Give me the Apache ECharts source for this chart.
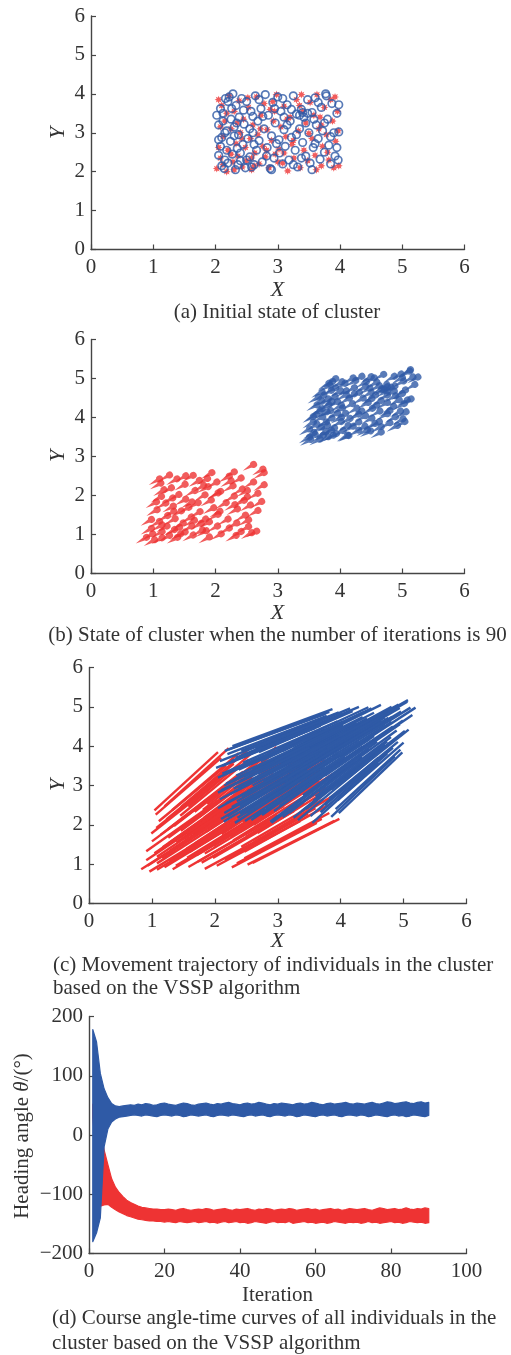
<!DOCTYPE html>
<html><head><meta charset="utf-8">
<script src="https://cdn.jsdelivr.net/npm/echarts@6/dist/echarts.min.js"></script>
<style>html,body{margin:0;padding:0;background:#fff}#c{width:511px;height:1355px}</style>
</head><body><div id="c"></div><script>
// Start positions of individuals (iteration 0) and their positions after 90 iterations
const blueStart = [[2.05,3.20],[2.08,2.65],[2.10,2.88],[2.12,3.50],[2.15,2.30],[2.18,3.05],[2.20,2.22],[2.22,3.92],[2.24,2.78],[2.25,3.35],
[2.27,2.45],[2.28,4.00],[2.30,3.15],[2.32,2.05],[2.33,3.70],[2.35,2.60],[2.37,2.95],[2.38,3.40],[2.40,2.28],[2.42,3.88],
[2.44,2.70],[2.46,3.22],[2.48,2.10],[2.50,3.80],[2.52,2.85],[2.55,2.38],[2.57,3.55],[2.60,3.00],[2.62,2.18],[2.64,3.95],
[2.66,2.55],[2.68,3.30],[2.70,2.80],[2.73,3.62],[2.75,2.25],[2.78,3.10],[2.80,3.98],[2.83,2.62],[2.85,3.45],[2.88,2.08],
[2.90,2.92],[2.92,3.78],[2.94,2.35],[2.96,3.25],[2.98,2.72],[3.00,3.92],[3.03,2.48],[3.05,3.55],[3.08,2.20],[3.10,3.08],
[3.12,2.65],[3.15,3.72],[3.18,2.30],[3.20,3.30],[3.22,2.88],[3.25,3.95],[3.28,2.55],[3.30,3.48],[3.32,2.12],[3.35,3.10],
[3.38,3.60],[3.40,2.75],[3.42,3.40],[3.45,2.40],[3.48,3.85],[3.50,3.00],[3.52,2.22],[3.55,3.52],[3.57,2.62],[3.60,3.90],
[3.62,3.20],[3.65,2.85],[3.68,2.32],[3.70,3.65],[3.72,3.05],[3.75,2.50],[3.77,4.00],[3.80,3.35],[3.82,2.68],[3.85,2.20],
[3.87,3.75],[3.90,3.00],[3.92,2.40],[3.95,3.50],[3.97,2.30],[3.98,3.72],[2.05,2.42],[2.14,2.08],[2.08,3.62],[2.20,3.80],
[3.45,3.25],[3.35,3.45],[3.58,3.35],[2.58,2.12],[2.36,2.18],[2.90,2.05],[3.25,2.18],[2.15,3.00],[2.60,3.42],[3.10,3.40],
[2.02,3.45],[2.10,2.15],[2.16,3.88],[2.18,2.55],[2.26,3.62],[2.30,2.92],[2.34,3.25],[2.40,2.48],[2.45,3.58],[2.50,2.30],
[2.55,3.10],[2.62,2.70],[2.70,3.85],[2.76,3.42],[2.82,2.40],[2.95,3.62],[3.02,2.82],[3.15,3.20],[3.22,3.60],[3.30,2.95],
[3.38,2.35],[3.48,3.50],[3.40,3.52],[3.60,2.72],[3.65,3.78],[3.75,3.25],[3.85,2.90],[3.95,2.62],[3.98,3.02],[3.78,3.95],
[2.05,2.82],[2.12,3.30],[3.08,3.88],[3.55,2.05]];
const blueEnd = [[3.57,4.27],[3.51,3.83],[3.56,4.02],[3.68,4.52],[3.52,3.56],[3.65,4.17],[3.54,3.51],[3.82,4.87],[3.66,3.96],[3.75,4.42],
[3.64,3.70],[3.87,4.94],[3.76,4.27],[3.62,3.39],[3.87,4.71],[3.72,3.83],[3.79,4.12],[3.86,4.48],[3.71,3.58],[3.97,4.86],
[3.81,3.93],[3.90,4.35],[3.75,3.45],[4.02,4.82],[3.90,4.06],[3.85,3.68],[4.04,4.63],[3.98,4.19],[3.88,3.53],[4.15,4.96],
[3.96,3.84],[4.09,4.44],[4.03,4.05],[4.17,4.71],[3.99,3.61],[4.14,4.30],[4.29,5.00],[4.10,3.92],[4.25,4.59],[4.06,3.49],
[4.21,4.18],[4.36,4.86],[4.15,3.72],[4.31,4.44],[4.24,4.03],[4.44,4.99],[4.24,3.83],[4.42,4.70],[4.24,3.62],[4.39,4.33],
[4.35,3.99],[4.53,4.85],[4.34,3.72],[4.51,4.52],[4.46,4.18],[4.64,5.05],[4.45,3.93],[4.61,4.68],[4.43,3.60],[4.60,4.38],
[4.69,4.79],[4.58,4.11],[4.70,4.63],[4.57,3.84],[4.81,5.00],[4.70,4.33],[4.60,3.71],[4.82,4.75],[4.70,4.04],[4.92,5.06],
[4.83,4.50],[4.80,4.23],[4.74,3.81],[4.96,4.88],[4.89,4.40],[4.83,3.96],[5.07,5.17],[4.99,4.65],[4.91,4.11],[4.86,3.74],
[5.11,4.98],[5.02,4.39],[4.95,3.91],[5.14,4.79],[4.98,3.84],[5.19,4.98],[3.45,3.65],[3.47,3.38],[3.65,4.61],[3.78,4.77],
[4.70,4.52],[4.65,4.66],[4.81,4.62],[3.83,3.49],[3.67,3.49],[4.08,3.48],[4.38,3.63],[3.62,4.12],[4.04,4.53],[4.44,4.59],
[3.59,4.46],[3.45,3.44],[3.76,4.82],[3.57,3.77],[3.80,4.64],[3.73,4.09],[3.81,4.35],[3.74,3.74],[3.95,4.63],[3.80,3.62],
[3.96,4.26],[3.96,3.95],[4.19,4.89],[4.17,4.55],[4.07,3.74],[4.35,4.74],[4.29,4.11],[4.45,4.43],[4.57,4.76],[4.53,4.26],
[4.50,3.79],[4.76,4.72],[4.70,4.73],[4.74,4.12],[4.94,4.97],[4.94,4.56],[4.97,4.30],[5.00,4.09],[5.08,4.42],[5.06,5.13],
[3.51,3.97],[3.65,4.36],[4.49,4.96],[4.60,3.57]];
const redStart = [[2.02,2.08],[2.05,3.85],[2.08,2.35],[2.10,3.70],[2.12,2.90],[2.15,3.30],[2.18,2.00],[2.20,2.55],[2.22,3.95],[2.25,3.10],
[2.28,2.25],[2.30,3.55],[2.33,2.72],[2.36,2.40],[2.38,3.82],[2.40,3.00],[2.43,2.12],[2.45,3.35],[2.48,2.62],[2.50,2.28],
[2.53,3.65],[2.56,2.85],[2.58,2.05],[2.60,3.20],[2.63,2.48],[2.66,3.92],[2.68,2.95],[2.70,2.20],[2.73,3.45],[2.76,2.65],
[2.78,3.75],[2.80,2.38],[2.83,3.08],[2.86,2.10],[2.88,3.60],[2.90,2.80],[2.93,3.30],[2.96,2.45],[2.98,3.98],[3.02,2.58],
[3.05,3.15],[3.08,2.22],[3.10,3.68],[3.13,2.90],[3.16,2.02],[3.20,3.40],[3.23,2.70],[3.26,2.35],[3.30,3.85],[3.33,3.05],
[3.36,2.10],[3.40,3.55],[3.42,2.55],[3.45,3.25],[3.48,2.28],[3.52,3.78],[3.55,2.85],[3.58,3.45],[3.60,2.42],[3.63,3.98],
[3.66,3.10],[3.70,2.15],[3.72,2.65],[3.75,3.65],[3.78,2.95],[3.82,2.30],[3.85,3.85],[3.88,3.30],[3.90,2.10],[3.93,2.78],
[3.96,3.55],[3.98,2.15],[2.12,2.18],[3.38,3.98],[3.70,3.20],[2.95,3.55],[2.05,2.62],[2.08,3.15],[2.18,3.50],[2.30,2.05],
[2.35,3.25],[2.42,2.85],[2.52,3.90],[2.62,2.15],[2.72,3.10],[2.82,2.55],[2.92,3.80],[3.00,2.25],[3.15,3.35],[3.25,2.80],
[3.35,3.70],[3.50,2.98],[3.62,2.05],[3.68,3.40],[3.80,2.50],[3.92,3.92],[3.97,3.05],[2.25,2.45],[2.58,2.35],[3.10,2.48]];
const redEnd = [[0.83,0.87],[1.04,2.37],[0.91,1.10],[1.06,2.26],[1.00,1.58],[1.07,1.92],[0.96,0.81],[1.04,1.28],[1.20,2.47],[1.14,1.75],
[1.08,1.02],[1.23,2.14],[1.17,1.43],[1.16,1.16],[1.32,2.37],[1.26,1.67],[1.20,0.92],[1.35,1.97],[1.29,1.35],[1.28,1.07],
[1.45,2.23],[1.39,1.55],[1.33,0.87],[1.46,1.85],[1.42,1.24],[1.58,2.46],[1.51,1.64],[1.45,1.01],[1.61,2.07],[1.55,1.39],
[1.68,2.33],[1.56,1.16],[1.66,1.76],[1.58,0.93],[1.75,2.20],[1.69,1.53],[1.77,1.96],[1.71,1.23],[1.88,2.53],[1.78,1.34],
[1.87,1.83],[1.79,1.04],[1.96,2.29],[1.91,1.63],[1.84,0.88],[2.02,2.05],[1.98,1.46],[1.97,1.16],[2.16,2.44],[2.11,1.76],
[2.03,0.96],[2.22,2.19],[2.14,1.34],[2.24,1.93],[2.16,1.11],[2.35,2.39],[2.29,1.60],[2.37,2.11],[2.28,1.24],[2.55,2.74],
[2.40,1.82],[2.35,1.02],[2.42,1.44],[2.55,2.29],[2.50,1.70],[2.47,1.15],[2.70,2.62],[2.62,2.00],[2.52,0.99],[2.62,1.56],
[2.72,2.22],[2.60,1.03],[0.93,0.96],[2.24,2.55],[2.45,1.91],[1.82,2.17],[0.91,1.33],[0.99,1.78],[1.11,2.09],[1.08,0.86],
[1.25,1.88],[1.27,1.54],[1.46,2.45],[1.38,0.96],[1.56,1.78],[1.60,1.31],[1.81,2.38],[1.73,1.06],[1.98,2.01],[2.01,1.54],
[2.19,2.32],[2.25,1.71],[2.27,0.92],[2.45,2.07],[2.47,1.32],[2.72,2.53],[2.68,1.79],[1.08,1.19],[1.36,1.13],[1.84,1.27]];

// Heading angle envelopes (degrees) of each group, iterations 1..90
const blueHi = [178,157,104,78,63,53,49,48,49,50, 51,50,52,51,53,52,50,51,53,54, 52,51,50,52,54,53,51,50,52,53,
 54,52,51,53,52,54,55,53,52,51, 53,54,52,53,55,54,52,51,53,52, 54,53,52,51,53,54,52,53,55,54,
 52,51,53,54,52,53,54,55,53,52, 54,53,52,54,55,53,52,54,56,55, 53,54,55,56,54,53,55,56,54,55];
const blueLo = [-180,-165,-140,-20,10,22,27,30,31,32, 33,34,33,32,34,33,32,31,33,34, 33,32,34,33,31,32,34,33,32,33,
 34,32,31,33,34,33,32,34,33,32, 31,33,34,32,33,34,32,31,33,34, 33,32,34,33,31,32,34,33,32,31,
 33,34,32,33,34,32,31,33,34,33, 32,34,33,31,32,34,33,32,31,33, 34,32,33,31,32,34,33,32,31,33];
const redHi = [52,40,8,-25,-50,-74,-88,-97,-104,-110, -114,-117,-120,-122,-123,-124,-125,-125,-126,-126,
 -125,-126,-127,-125,-124,-126,-127,-126,-125,-126, -124,-125,-127,-126,-125,-124,-126,-127,-125,-126,
 -125,-124,-126,-127,-125,-126,-124,-125,-127,-126, -125,-126,-124,-125,-127,-126,-125,-124,-126,-125,
 -127,-126,-125,-124,-126,-125,-127,-126,-124,-125, -126,-125,-124,-126,-127,-125,-123,-124,-126,-125,
 -124,-126,-125,-123,-125,-126,-124,-125,-123,-124];
const redLo = [30,-40,-120,-118,-117,-122,-126,-130,-133,-136, -138,-140,-142,-143,-144,-145,-145,-146,-146,-147,
 -146,-147,-148,-146,-147,-148,-147,-146,-148,-147, -146,-148,-147,-149,-147,-146,-148,-147,-146,-148,
 -147,-149,-148,-146,-147,-148,-149,-147,-146,-148, -147,-148,-146,-149,-148,-147,-146,-148,-147,-149,
 -148,-147,-149,-148,-146,-147,-148,-149,-147,-148, -147,-149,-148,-146,-148,-147,-149,-148,-147,-146,
 -148,-147,-149,-148,-146,-147,-148,-147,-149,-148];
const iterations = blueHi.map((_, i) => i + 1);

const posTicks = [0, 1, 2, 3, 4, 5, 6];
const angleTicks = [-200, -100, 0, 100, 200];
const iterTicks = [0, 20, 40, 60, 80, 100];

const BLUE = '#2f5aa6';
const RED = '#ee3333';
const AXIS = '#454545';
const TEXT = '#333';
const FONT = '"Liberation Serif", "Times New Roman", serif';

const STAR = 'path://M10,5L7.4,6L8.54,8.54L6,7.4L5,10L4,7.4L1.46,8.54L2.6,6L0,5L2.6,4L1.46,1.46L4,2.6L5,0L6,2.6L8.54,1.46L7.4,4Z';
// comet glyph: round head on the right, tapered tail on the left
const COMET = 'path://M0,4L10,2.2L10,5.8Z M16,4A3.5,3.5 0 1,1 9,4A3.5,3.5 0 1,1 16,4Z';

function valAxis(idx, ticks, fs, labelMargin) {
  return {
    type: 'value', gridIndex: idx,
    min: ticks[0], max: ticks[ticks.length - 1], interval: ticks[1] - ticks[0],
    axisLine: { onZero: false, lineStyle: { color: AXIS, width: 1.4 } },
    axisTick: { inside: true, length: 5, lineStyle: { color: AXIS, width: 1.2 } },
    splitLine: { show: false },
    axisLabel: { fontFamily: FONT, fontSize: fs, color: TEXT, margin: labelMargin,
      formatter: v => String(v).replace('-', '\u2212') }
  };
}

const grids = [
  { left: 91, top: 16, width: 373.5, height: 233.5 },
  { left: 91, top: 339.5, width: 373.5, height: 234 },
  { left: 89, top: 667.5, width: 377.5, height: 236 },
  { left: 89, top: 1016.5, width: 377.5, height: 237 }
];

function band(lo, hi, color) {
  return {
    type: 'custom', xAxisIndex: 3, yAxisIndex: 3,
    data: iterations.map((it, i) => [it, lo[i], hi[i]]),
    encode: { x: 0, y: [1, 2] },
    renderItem: (params, api) => {
      if (params.dataIndex !== 0) return null;
      const pts = [];
      iterations.forEach((it, i) => pts.push(api.coord([it, hi[i]])));
      for (let i = iterations.length - 1; i >= 0; i--) pts.push(api.coord([iterations[i], lo[i]]));
      return { type: 'polygon', shape: { points: pts },
        style: { fill: color, stroke: color, lineWidth: 1.2, lineJoin: 'round' } };
    },
    silent: true
  };
}

function caption(text, x, y, align) {
  return { type: 'text', x, y, style: { text, font: '21px ' + FONT, fill: TEXT, align: align || 'center', verticalAlign: 'middle' } };
}
function axisName(text, x, y, rotate) {
  return { type: 'text', x, y, rotation: rotate ? Math.PI / 2 : 0,
    style: { text, font: 'italic 22px ' + FONT, fill: TEXT, align: 'center', verticalAlign: 'middle' } };
}

const option = {
  animation: false,
  backgroundColor: '#fff',
  grid: grids,
  xAxis: [valAxis(0, posTicks, 21, 7), valAxis(1, posTicks, 21, 7), valAxis(2, posTicks, 21, 7), valAxis(3, iterTicks, 21, 7)],
  yAxis: [valAxis(0, posTicks, 21, 6), valAxis(1, posTicks, 21, 6), valAxis(2, posTicks, 21, 6), valAxis(3, angleTicks, 21, 6)],
  series: [
    // (a) initial positions
    { type: 'scatter', xAxisIndex: 0, yAxisIndex: 0, data: redStart, symbol: STAR, symbolSize: 8,
      itemStyle: { color: RED } },
    { type: 'scatter', xAxisIndex: 0, yAxisIndex: 0, data: blueStart, symbol: 'circle', symbolSize: 7.5,
      itemStyle: { color: 'rgba(0,0,0,0)', borderColor: BLUE, borderWidth: 1.7 } },
    // (b) positions after 90 iterations
    { type: 'scatter', xAxisIndex: 1, yAxisIndex: 1, data: redEnd, symbol: COMET, symbolSize: [16, 7], symbolRotate: 30,
      itemStyle: { color: RED } },
    { type: 'scatter', xAxisIndex: 1, yAxisIndex: 1, data: blueEnd, symbol: COMET, symbolSize: [16, 7], symbolRotate: 30,
      itemStyle: { color: BLUE } },
    // (c) trajectories
    { type: 'lines', coordinateSystem: 'cartesian2d', xAxisIndex: 2, yAxisIndex: 2,
      data: redStart.map((s, i) => ({ coords: [s, redEnd[i]] })),
      lineStyle: { color: RED, width: 2.4, opacity: 1 } },
    { type: 'lines', coordinateSystem: 'cartesian2d', xAxisIndex: 2, yAxisIndex: 2,
      data: blueStart.map((s, i) => ({ coords: [s, blueEnd[i]] })),
      lineStyle: { color: BLUE, width: 2.4, opacity: 1 } },
    // (d) heading angle bands
    band(redLo, redHi, RED),
    band(blueLo, blueHi, BLUE)
  ],
  graphic: [
    axisName('Y', 58, 133, true), axisName('X', 277.5, 290, false),
    caption('(a) Initial state of cluster', 277, 312),
    axisName('Y', 58, 456, true), axisName('X', 277.5, 613, false),
    caption('(b) State of cluster when the number of iterations is 90', 277.5, 635),
    axisName('Y', 58, 785, true), axisName('X', 277.5, 941.5, false),
    caption('(c) Movement trajectory of individuals in the cluster', 53, 965, 'left'),
    caption('based on the VSSP algorithm', 53, 988, 'left'),
    { type: 'text', x: 22, y: 1136, rotation: Math.PI / 2,
      style: { text: '{a|Heading angle }{b|θ}{a|/(°)}', align: 'center', verticalAlign: 'middle',
        rich: { a: { font: '21px ' + FONT, fill: TEXT }, b: { font: 'italic 21px ' + FONT, fill: TEXT } } } },
    { type: 'text', x: 277.5, y: 1295, style: { text: 'Iteration', font: '21px ' + FONT, fill: TEXT, align: 'center', verticalAlign: 'middle' } },
    caption('(d) Course angle-time curves of all individuals in the', 52, 1318, 'left'),
    caption('cluster based on the VSSP algorithm', 52, 1343, 'left')
  ]
};

const chart = echarts.init(document.getElementById('c'), null, { renderer: 'canvas' });
chart.setOption(option);
</script></body></html>
